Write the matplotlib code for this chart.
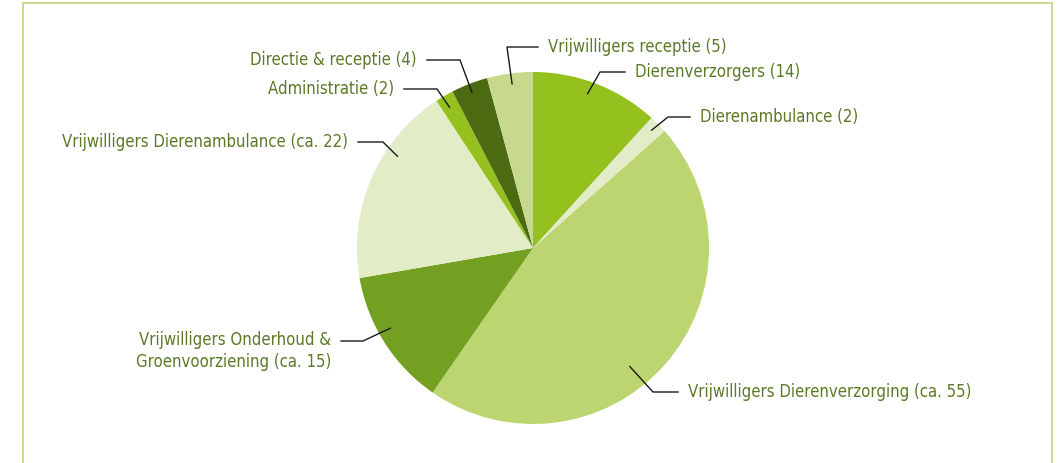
import matplotlib
matplotlib.use("Agg")
import matplotlib.pyplot as plt
from matplotlib.patches import Rectangle
import numpy as np

labels = ["Dierenverzorgers (14)", "Dierenambulance (2)", "Vrijwilligers Dierenverzorging (ca. 55)",
          "Vrijwilligers Onderhoud &\nGroenvoorziening (ca. 15)", "Vrijwilligers Dierenambulance (ca. 22)",
          "Administratie (2)", "Directie & receptie (4)", "Vrijwilligers receptie (5)"]
values = [14, 2, 55, 15, 22, 2, 4, 5]
colors = ["#95c11f", "#e3ecc9", "#bdd571", "#73a021", "#e2edc8", "#95c11f", "#4b6a12", "#c6d98d"]

W, H = 1060, 463
fig = plt.figure(figsize=(W / 100, H / 100), dpi=100)
ax = fig.add_axes([0, 0, 1, 1])
cx, cy, R = 533, H - 248, 176
wedges, _ = ax.pie(values, colors=colors, startangle=90, counterclock=False,
                   center=(cx, cy), radius=R, wedgeprops=dict(linewidth=0))
ax.set_xlim(0, W)
ax.set_ylim(0, H)
ax.set_aspect("auto")
ax.axis("off")

ax.add_patch(Rectangle((23, -20), 1052 - 23, H - 3 + 20, fill=False, edgecolor="#c8dc8c", lw=1.5))

fam = ["DejaVu Sans"]
tcol = "#5b7a26"
# (elbow x, elbow y [px from top], line end x, text side, anchor position within slice,
#  anchor radius frac, text y offset px)
layout = [
    (600, 72, 625, "left", 0.46, 0.93, 0),
    (668, 117, 690, "left", 0.47, 0.95, 0),
    (653, 392, 678, "left", 0.555, 0.87, 0),
    (363, 341, 341, "right", 0.57, 0.93, 10),
    (383, 142, 358, "right", 0.66, 0.93, 0),
    (437, 89, 404, "right", 0.43, 0.93, 0),
    (460, 60, 427, "right", 0.48, 0.95, 0),
    (507, 47, 538, "left", 0.52, 0.94, 0),
]
tot = sum(values)
cum = 0
for lab, v, (ex, ey, lx, side, pos, fr, dy) in zip(labels, values, layout):
    ang = (cum + v * pos) / tot * 2 * np.pi
    cum += v
    sx = cx + fr * R * np.sin(ang)
    sy = cy + fr * R * np.cos(ang)
    ax.plot([sx, ex, lx], [sy, H - ey, H - ey], color="#1a1a1a", lw=1.0)
    tx = lx + 10 if side == "left" else lx - 10
    ax.text(tx, H - ey - dy, lab, ha=side, va="center", fontsize=12, color=tcol,
            family=fam, fontstretch="condensed", linespacing=1.25,
            multialignment="right" if side == "right" else "left")

fig.savefig("out.png", dpi=100)
